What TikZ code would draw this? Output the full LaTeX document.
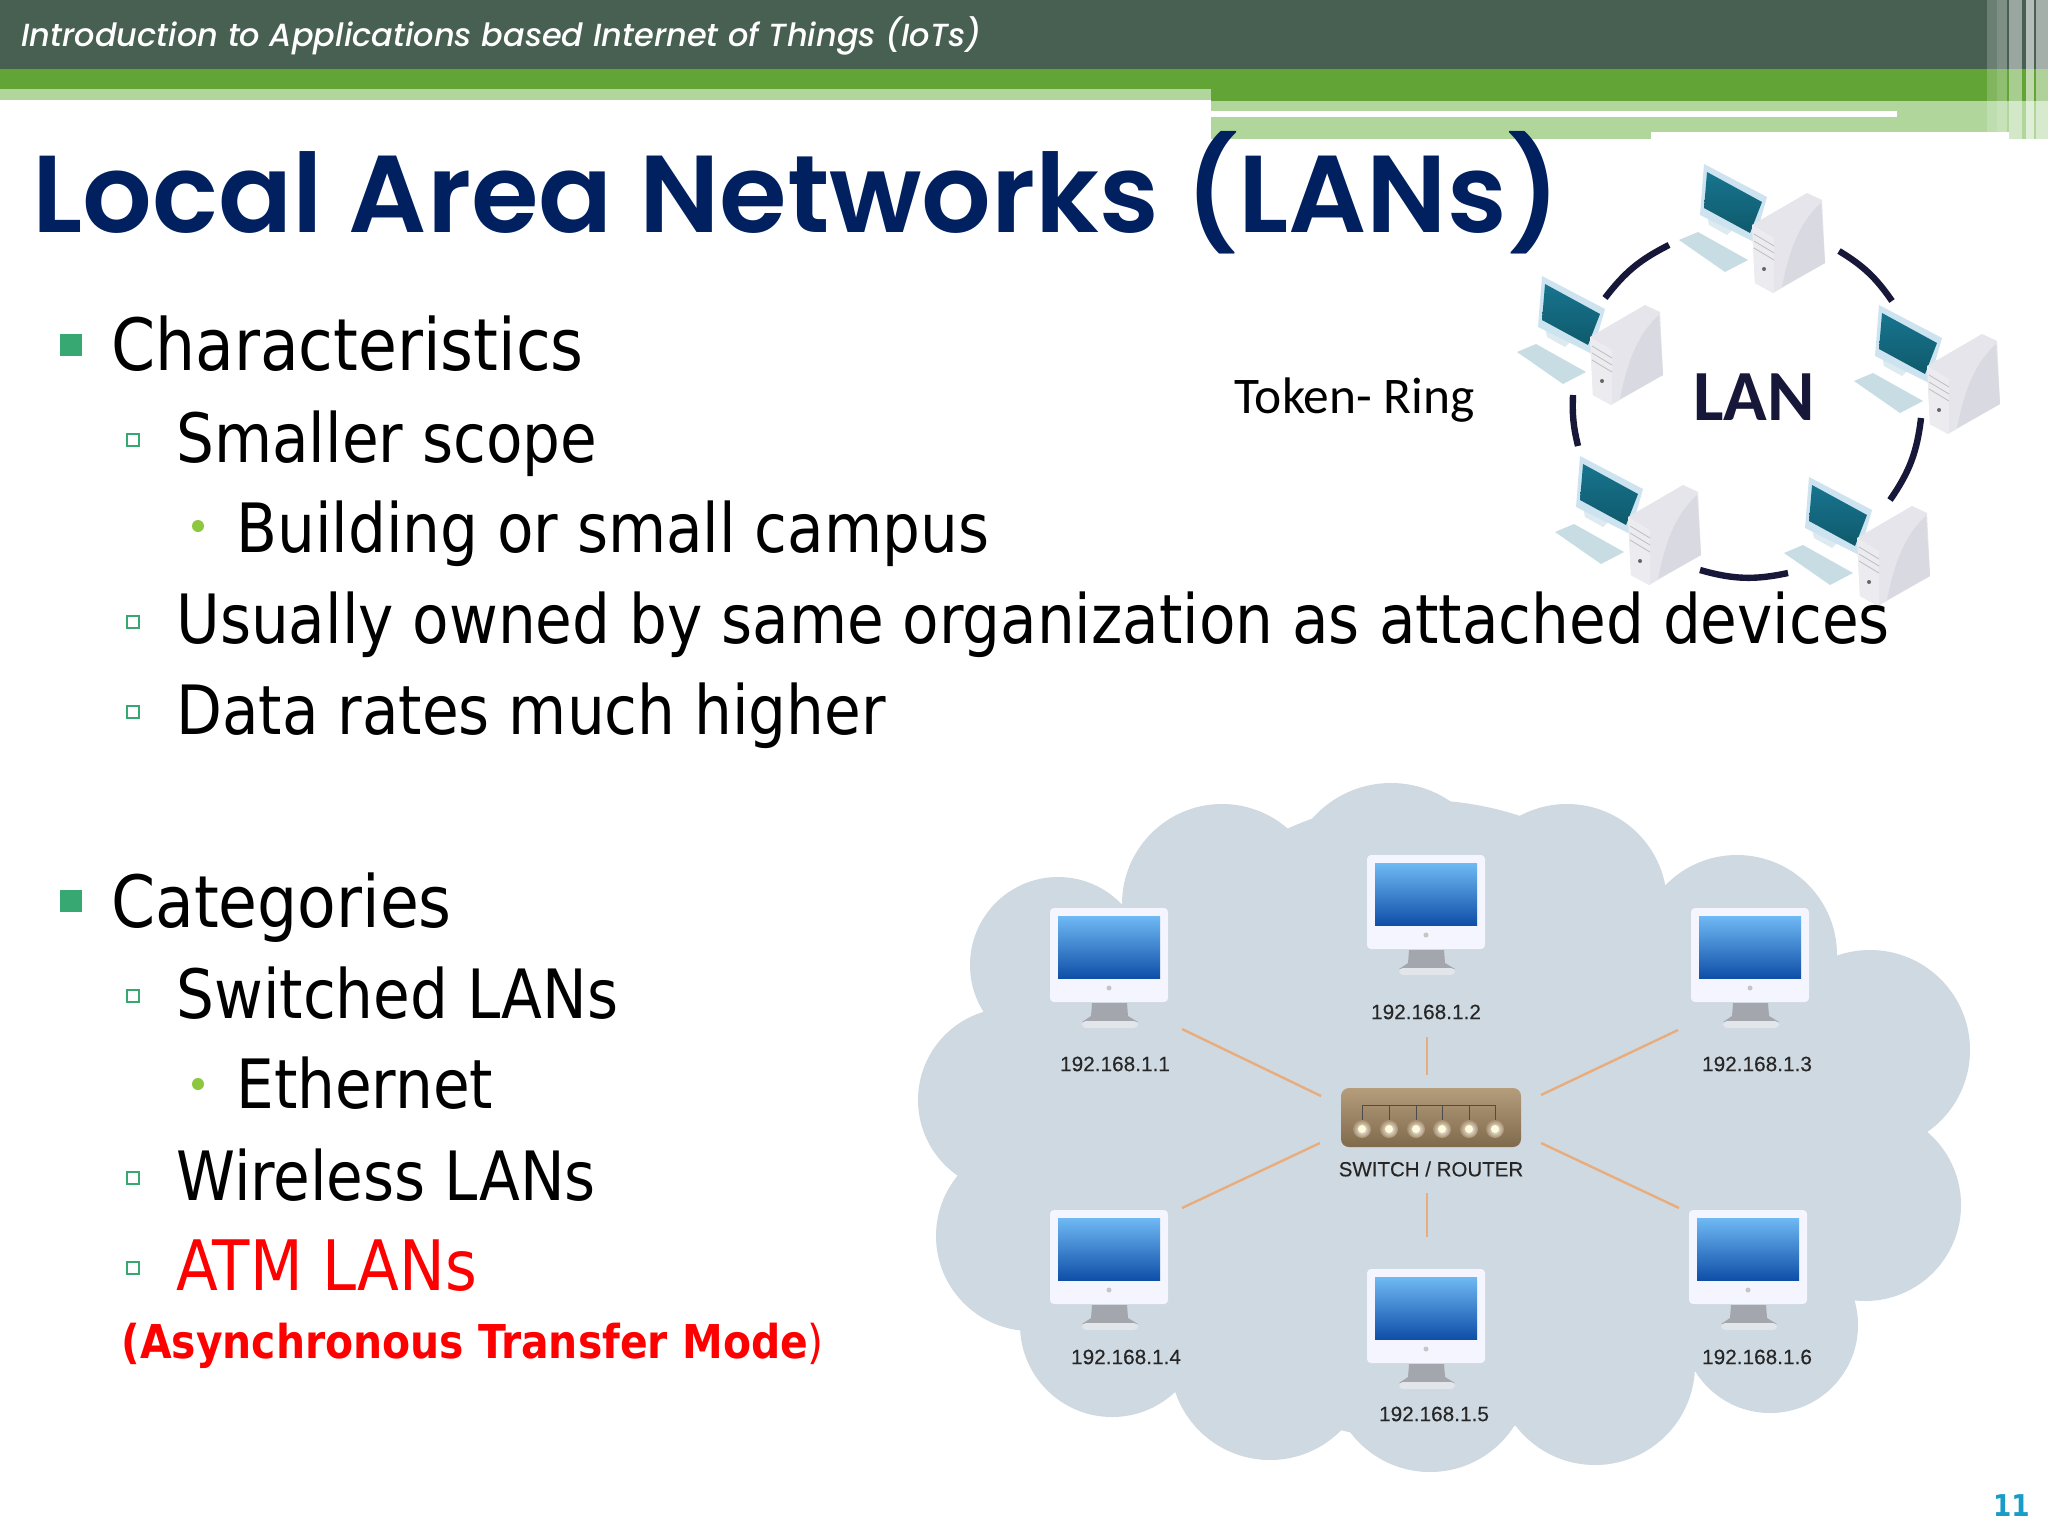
\documentclass[tikz,border=0pt]{standalone}
\usepackage{fontspec}
\setmainfont[FakeStretch=.975]{DejaVu Sans Condensed}
\newfontfamily\titlefont{Poppins SemiBold}
\newfontfamily\headerfont{Poppins Medium}
\newfontfamily\arialfont[FakeBold=0.25]{Liberation Sans}
\newfontfamily\calibrifont{Carlito}
\usetikzlibrary{calc}
\definecolor{barDark}{HTML}{476052}
\definecolor{barGreen}{HTML}{62A436}
\definecolor{barLight}{HTML}{B0D69B}
\definecolor{titleBlue}{HTML}{002060}
\definecolor{bulletGreen}{HTML}{38A873}
\definecolor{dotGreen}{HTML}{8DC63F}
\definecolor{cloudGrey}{HTML}{CFD9E1}
\definecolor{linkOrange}{HTML}{E9AC7C}
\definecolor{ringNavy}{HTML}{17173A}
\definecolor{pageBlue}{HTML}{1A9CC9}
\definecolor{towerMain}{HTML}{E5E5EB}
\definecolor{towerSide}{HTML}{D9DAE1}
\definecolor{towerFront}{HTML}{EBEBF0}
\definecolor{monFrame}{HTML}{CDE4F0}
\definecolor{monStand}{HTML}{DDEAF0}
\definecolor{monKeys}{HTML}{C8DDE3}
\definecolor{monTop}{HTML}{17748E}
\definecolor{monLow}{HTML}{0F5A6C}
\definecolor{lanTop}{HTML}{6FB9F4}
\definecolor{lanMid}{HTML}{3F8DD8}
\definecolor{lanLow}{HTML}{0F4FA8}
\definecolor{neckGrey}{HTML}{A4A6AE}
\definecolor{baseGrey}{HTML}{E2E6EB}
\definecolor{switchTop}{HTML}{B59D7C}
\definecolor{switchMid}{HTML}{A58D6C}
\definecolor{switchLow}{HTML}{7F6A4C}
\tikzstyle{lineone} = [anchor=base west,inner sep=0pt,font=\fontsize{36}{36}\selectfont]
\tikzstyle{linetwo} = [anchor=base west,inner sep=0pt,font=\fontsize{34}{34}\selectfont]
\tikzstyle{ipaddr} = [inner sep=0pt,text=black!85,font=\arialfont\fontsize{10.4}{10.4}\selectfont]
\tikzstyle{ringlink} = [line width=3.2pt,ringNavy]
\tikzstyle{starlink} = [line width=1.2pt,linkOrange]
\tikzset{
ringpc/.pic={
\fill[monKeys] (-73,15) -- (-54,7) -- (-4,35) -- (-27,47) -- cycle;
\fill[monStand] (-45,-10) -- (-20,5) -- (-25,10) -- (-43,0) -- cycle;
\fill[monFrame] (-48,-61) -- (15,-28) -- (2,17) -- (-52,-10) -- cycle;
\shade[top color=monTop,bottom color=monLow] (-45,-53) -- (10,-23) -- (-2,8) -- (-48,-17) -- cycle;
\fill[towerMain] (0,0) -- (55,-32) -- (70,-25) -- (73,38) -- (21,68) -- (3,58) -- cycle;
\fill[towerSide] (30,62) .. controls (38,20) and (50,-5) .. (69,-22) -- (73,38) -- cycle;
\fill[towerFront] (0,0) -- (22,13) -- (22,68) -- (3,58) -- cycle;
\draw[gray!50,line width=.4pt] (2,9) -- (22,21) (2,16) -- (22,28) (2,23) -- (22,35);
\fill[black!60] (12,44) circle[radius=2];
},
lanpc/.pic={
\fill[neckGrey] (42,95) -- (77,95) -- (78,108) -- (88,114) -- (32,114) -- (41,108) -- cycle;
\fill[baseGrey,rounded corners=2pt] (32,113) rectangle (88,120);
\fill[white!96!blue,rounded corners=2pt] (0,0) rectangle (118,94);
\shade[top color=lanTop,middle color=lanMid,bottom color=lanLow] (8,8) rectangle (110,70);
\fill[gray!45] (59,80) circle[radius=2.5];
}
}
\begin{document}
\begin{tikzpicture}[x=0.5pt,y=-0.5pt]
\useasboundingbox (0,0) rectangle (2048,1536);
\fill[white] (0,0) rectangle (2048,1536);
\fill[barLight] (0,89) rectangle (1211,100);
\fill[barLight] (1211,101) rectangle (2048,139);
\fill[barGreen] (0,69) rectangle (1211,89);
\fill[barGreen] (1211,69) rectangle (2048,101);
\fill[barDark] (0,0) rectangle (2048,69);
\fill[white] (1211,111) rectangle (1897,117);
\fill[white] (1651,132) rectangle (2009,139);
\foreach \x/\w/\o in {1987/10/.2,1997/10/.3,2009/13/.45,2026/8/.6,2036/12/.5}
	\fill[white,opacity=\o] (\x,0) rectangle ({\x+\w},139);
\node[anchor=base west,inner sep=0pt,text=white,font=\headerfont\itshape\fontsize{16}{16}\selectfont] (header) at (21,47) {Introduction to Applications based Internet of Things (IoTs)};
\foreach \x/\y/\n in {1752/225/top,1590/337/left,1927/366/right,1628/517/lowleft,1857/538/lowright}
	\pic (\n) at (\x,\y) {ringpc};
\coordinate (ringa) at (1669,245);
\coordinate (ringb) at (1605,298);
\coordinate (ringc) at (1839,251);
\coordinate (ringd) at (1892,301);
\coordinate (ringe) at (1921,418);
\coordinate (ringf) at (1890,500);
\coordinate (ringg) at (1700,570);
\coordinate (ringh) at (1788,573);
\coordinate (ringi) at (1573,395);
\coordinate (ringj) at (1578,446);
\draw[ringlink] (ringa) to[bend right=13] (ringb);
\draw[ringlink] (ringc) to[bend left=12] (ringd);
\draw[ringlink] (ringe) to[bend left=14] (ringf);
\draw[ringlink] (ringg) to[bend right=14] (ringh);
\draw[ringlink] (ringi) to[bend right=8] (ringj);
\node[text=ringNavy,inner sep=0pt,font=\calibrifont\bfseries\fontsize{36}{36}\selectfont] (lan) at (1754,397) {LAN};
\node[anchor=base west,inner sep=0pt,font=\calibrifont\fontsize{25.7}{25.7}\selectfont] (tokenring) at (1234,413) {Token- Ring};
\foreach \x/\y/\r in {1391/888/105,1222/904/100,1567/904/100,1058/965/88,1010/1100/92,1031/1236/95,1112/1325/92,1270/1360/100,1430/1372/100,1595/1365/100,1770/1325/88,1865/1205/96,1870/1050/100,1737/955/100,1420/1120/320,1680/1280/60}
	\fill[cloudGrey] (\x,\y) circle[radius=\r];
\fill[cloudGrey] (1010,1000) rectangle (1860,1280);
\foreach \x/\y/\n in {1050/908/one,1367/855/two,1691/908/three,1050/1210/four,1367/1269/five,1689/1210/six}
	\pic (\n) at (\x,\y) {lanpc};
\node[ipaddr] (ipone) at (1115,1064) {192.168.1.1};
\node[ipaddr] (iptwo) at (1426,1012) {192.168.1.2};
\node[ipaddr] (ipthree) at (1757,1064) {192.168.1.3};
\node[ipaddr] (ipfour) at (1126,1357) {192.168.1.4};
\node[ipaddr] (ipfive) at (1434,1414) {192.168.1.5};
\node[ipaddr] (ipsix) at (1757,1357) {192.168.1.6};
\shade[top color=switchTop,middle color=switchMid,bottom color=switchLow,rounded corners=4pt] (1341,1088) rectangle (1521,1147);
\draw[black!70,line width=.4pt] (1362,1105) -- (1495,1105);
\foreach \x in {1362,1389,1416,1442,1469,1495}{
	\draw[black!70,line width=.4pt] (\x,1105) -- (\x,1123);
	\shade[inner color=white,outer color=switchMid] (\x,1129) circle[radius=9];
	\fill[white!85!yellow] (\x,1129) circle[radius=4];
}
\node[inner sep=0pt,text=black!85,font=\arialfont\fontsize{10.25}{10.25}\selectfont] (switchlabel) at (1431,1169) {SWITCH / ROUTER};
\coordinate (linka) at (1182,1029);
\coordinate (linkb) at (1321,1096);
\coordinate (linkc) at (1427,1037);
\coordinate (linkd) at (1427,1075);
\coordinate (linke) at (1678,1030);
\coordinate (linkf) at (1541,1095);
\coordinate (linkg) at (1182,1208);
\coordinate (linkh) at (1320,1143);
\coordinate (linki) at (1427,1193);
\coordinate (linkj) at (1427,1237);
\coordinate (linkk) at (1541,1143);
\coordinate (linkl) at (1679,1208);
\draw[starlink] (linka) -- (linkb);
\draw[starlink] (linkc) -- (linkd);
\draw[starlink] (linke) -- (linkf);
\draw[starlink] (linkg) -- (linkh);
\draw[starlink] (linki) -- (linkj);
\draw[starlink] (linkk) -- (linkl);
\node[anchor=base west,inner sep=0pt,text=titleBlue,font=\titlefont\fontsize{54.7}{54.7}\selectfont] (title) at (32,232) {Local Area Networks (LANs)};
\foreach \y in {345,901}
	\fill[bulletGreen] (60,{\y-11}) rectangle (82,{\y+11});
\foreach \y in {440,622,712,996,1178,1268}
	\draw[bulletGreen,line width=1pt] (127,{\y-6}) rectangle (139,{\y+6});
\foreach \y in {526,1084}
	\fill[dotGreen] (198,\y) circle[radius=6];
\node[lineone] (characteristics) at (111,370) {Characteristics};
\node[linetwo] (scope) at (176,462) {Smaller scope};
\node[linetwo] (building) at (236,552) {Building or small campus};
\node[linetwo] (owned) at (176,643) {Usually owned by same organization as attached devices};
\node[linetwo] (rates) at (176,734) {Data rates much higher};
\node[lineone] (categories) at (111,927) {Categories};
\node[linetwo] (switched) at (176,1018) {Switched LANs};
\node[linetwo] (ethernet) at (236,1108) {Ethernet};
\node[linetwo] (wireless) at (176,1200) {Wireless LANs};
\node[linetwo,text=red,font=\fontsize{34.8}{34.8}\selectfont] (atm) at (176,1290) {ATM LANs};
\node[anchor=base west,inner sep=0pt,text=red,font=\fontsize{23.3}{23.3}\selectfont] (mode) at (121,1358) {\textbf{(Asynchronous Transfer Mode})};
\node[anchor=base east,inner sep=0pt,text=pageBlue,font=\bfseries\fontsize{15}{15}\selectfont] (pagenum) at (2030,1516) {11};
\end{tikzpicture}
\end{document}
